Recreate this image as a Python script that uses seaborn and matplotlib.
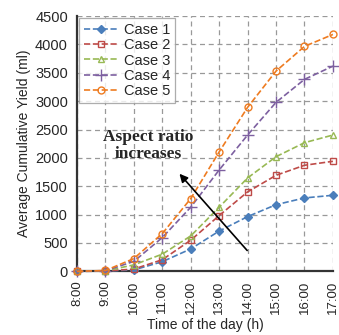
import pandas as pd
import matplotlib
matplotlib.use('Agg')
import matplotlib.pyplot as plt
import seaborn as sns

# 데이터
hours = [8, 9, 10, 11, 12, 13, 14, 15, 16, 17]
hour_labels = ['8:00', '9:00', '10:00', '11:00', '12:00', '13:00', '14:00', '15:00', '16:00', '17:00']
case1 = [0, 5, 25, 170, 395, 710, 965, 1175, 1294, 1341]
case2 = [0, 5, 40, 205, 548, 983, 1400, 1693, 1870, 1940]
case3 = [0, 8, 114, 303, 624, 1130, 1646, 2021, 2268, 2403]
case4 = [0, 12, 175, 595, 1130, 1787, 2403, 2979, 3384, 3618]
case5 = [0, 15, 225, 665, 1282, 2105, 2891, 3530, 3965, 4176]

series = {'Case 1': case1, 'Case 2': case2, 'Case 3': case3, 'Case 4': case4, 'Case 5': case5}
colors = {'Case 1': '#4A7EBB', 'Case 2': '#BE4B48', 'Case 3': '#98B954',
          'Case 4': '#7D60A0', 'Case 5': '#EE7B20'}
markers = {'Case 1': 'D', 'Case 2': 's', 'Case 3': '^', 'Case 4': '+', 'Case 5': 'o'}
msizes = {'Case 1': 4, 'Case 2': 5, 'Case 3': 5, 'Case 4': 8, 'Case 5': 5}

df = pd.DataFrame([(h, name, v) for name, vals in series.items() for h, v in zip(hours, vals)],
                  columns=['hour', 'case', 'yield'])

sns.set_style('white')
plt.rcParams['font.family'] = ['Liberation Sans', 'DejaVu Sans']

fig = plt.figure(figsize=(3.39, 3.35), dpi=100)
ax = fig.add_axes([0.227, 0.19, 0.755, 0.762])

for name in series:
    sub = df[df['case'] == name]
    filled = name == 'Case 1'
    sns.lineplot(data=sub, x='hour', y='yield', ax=ax, color=colors[name], label=name,
                 linestyle='--', linewidth=1.2, marker=markers[name],
                 markersize=msizes[name],
                 markerfacecolor=colors[name] if filled else 'none',
                 markeredgecolor=colors[name], markeredgewidth=1.0, dashes=(3, 1.6),
                 clip_on=False, zorder=3)

ax.set_xlim(8, 17)
ax.set_ylim(0, 4500)
ax.set_xticks(hours)
ax.set_xticklabels(hour_labels, rotation=90)
ax.set_yticks(range(0, 4501, 500))
ax.tick_params(axis='both', length=3, width=1, direction='out', color='#333333')
ax.tick_params(axis='y', labelsize=10.5)
ax.tick_params(axis='x', labelsize=9.5)
ax.grid(True, linestyle=(0, (4, 3)), color='#999999', linewidth=0.9)
for s in ['top', 'right']:
    ax.spines[s].set_visible(False)
for s in ['left', 'bottom']:
    ax.spines[s].set_color('#333333')
    ax.spines[s].set_linewidth(1.6)

ax.set_xlabel('Time of the day (h)', fontsize=10, labelpad=3)
ax.set_ylabel('Average Cumulative Yield (ml)', fontsize=10, labelpad=3)

leg = ax.legend(loc='upper left', fontsize=10.5, frameon=True, fancybox=False,
                handlelength=2.4, handletextpad=0.4, borderpad=0.3, labelspacing=0.1,
                borderaxespad=0.15)
leg.get_frame().set_edgecolor('#999999')
leg.get_frame().set_linewidth(0.9)
leg.set_zorder(5)

ax.annotate('', xy=(11.54, 1757), xytext=(14.05, 331),
            arrowprops=dict(arrowstyle='-|>', color='black', lw=1.2, mutation_scale=12))
ax.text(10.52, 2220, 'Aspect ratio\nincreases', ha='center', va='center', fontsize=12.5,
        fontweight='bold', family=['Liberation Serif', 'DejaVu Serif'], linespacing=1.05)

fig.savefig('out.png', dpi=100)
